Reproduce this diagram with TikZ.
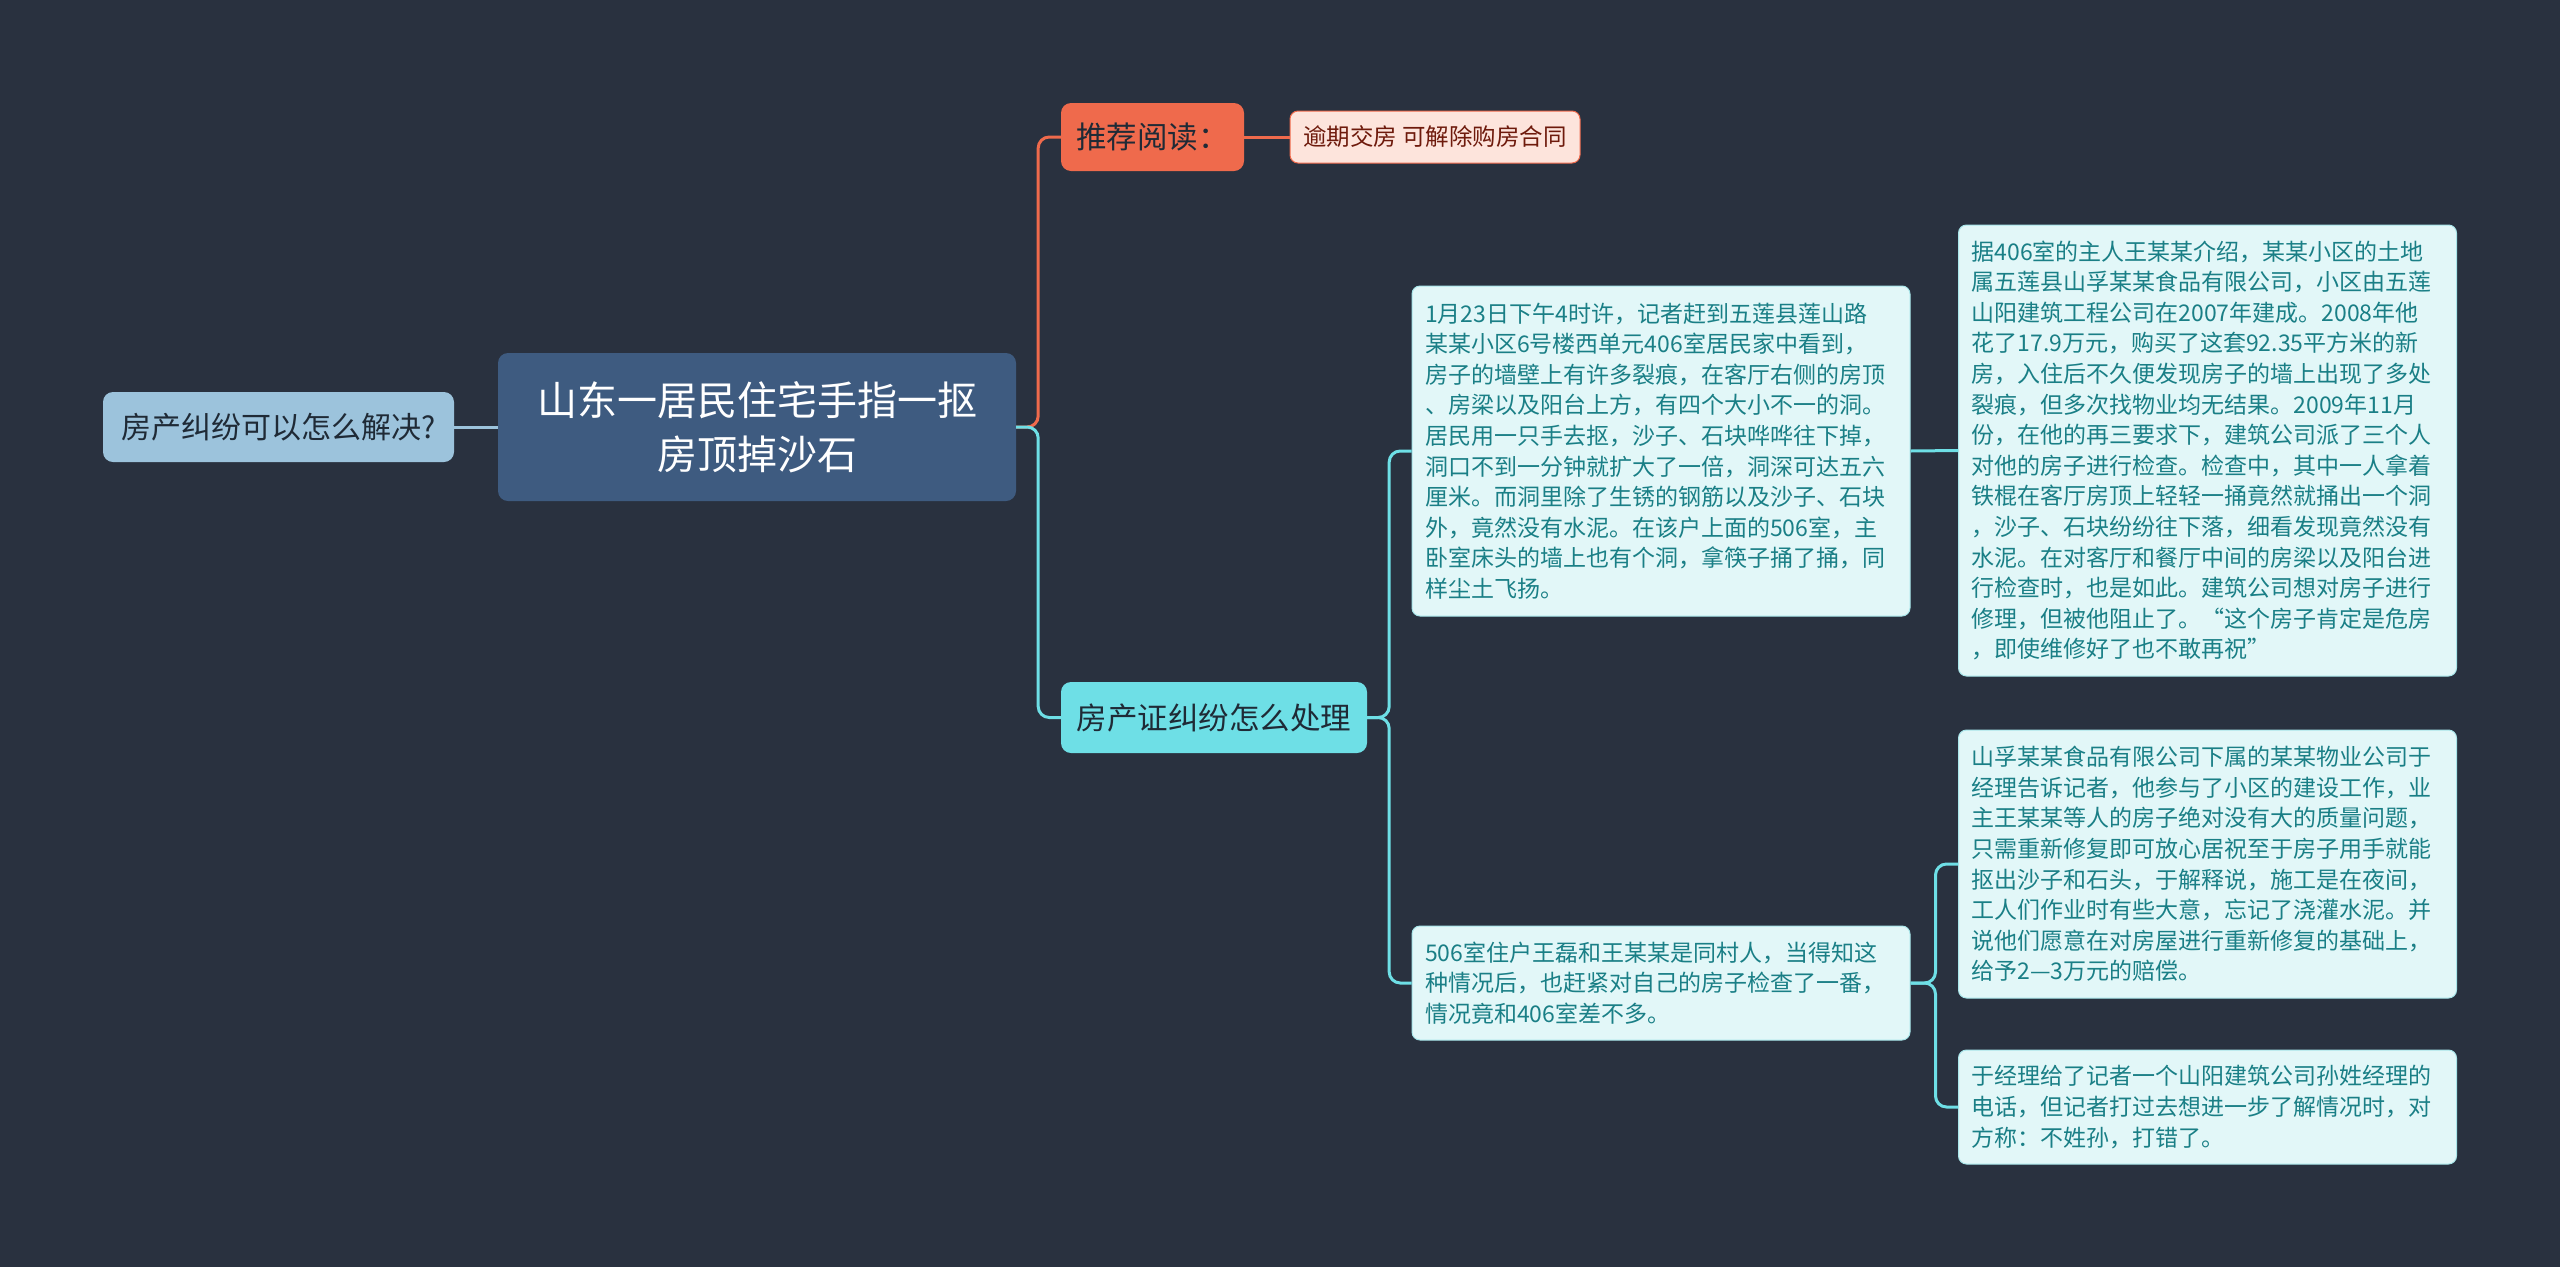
\documentclass[tikz,border=0pt]{standalone}
\usepackage{fontspec}
\setmainfont{Noto Sans CJK SC}
\definecolor{bgc}{HTML}{29313F}
\definecolor{rootc}{HTML}{3E5B80}
\definecolor{leftc}{HTML}{9CC3DC}
\definecolor{recc}{HTML}{EF6A4C}
\definecolor{linkc}{HTML}{FDE4DC}
\definecolor{linkt}{HTML}{6E1A0C}
\definecolor{fcc}{HTML}{6EDFE6}
\definecolor{boxc}{HTML}{E2F7F8}
\definecolor{boxb}{HTML}{A8E6EA}
\definecolor{boxt}{HTML}{1A7F86}
\definecolor{darkt}{HTML}{1F2A36}
\tikzset{
  basenode/.style={rounded corners=10pt, inner sep=0pt, align=center},
  rootnode/.style={basenode, fill=rootc, text=white, minimum width=518pt, minimum height=148pt, font=\fontsize{40}{54}\selectfont},
  leftnode/.style={basenode, fill=leftc, text=darkt, minimum width=351pt, minimum height=70pt, font=\fontsize{30}{34}\selectfont},
  recnode/.style={basenode, fill=recc, text=darkt, minimum width=183pt, minimum height=68pt, font=\fontsize{30.5}{34}\selectfont},
  linknode/.style={basenode, rounded corners=8pt, fill=linkc, draw=recc, line width=1pt, text=linkt, minimum width=290pt, minimum height=52pt, font=\fontsize{23.5}{28}\selectfont},
  fcnode/.style={basenode, fill=fcc, text=darkt, minimum width=306pt, minimum height=71pt, font=\fontsize{30.5}{34}\selectfont},
  txtnode/.style={rounded corners=8pt, fill=boxc, draw=boxb, line width=1pt, text=boxt, inner xsep=13pt, inner ysep=0pt, text width=472pt, align=left, font=\fontsize{23}{30.6}\selectfont},
  lineC/.style={draw=fcc, line width=3pt, rounded corners=11pt},
  lineO/.style={draw=recc, line width=3pt, rounded corners=11pt},
  lineL/.style={draw=leftc, line width=3pt}
}
\begin{document}
\begin{tikzpicture}[x=1pt,y=-1pt]
\fill[bgc] (0,0) rectangle (2560,1267);
\useasboundingbox (0,0) rectangle (2560,1267);

\node[rootnode] (root) at (757,427) {山东一居民住宅手指一抠\\房顶掉沙石};
\node[leftnode] (left) at (278.5,427) {房产纠纷可以怎么解决?};
\node[recnode] (rec) at (1152.5,137) {推荐阅读：};
\node[linknode] (link) at (1435,137) {逾期交房 可解除购房合同};
\node[fcnode] (fc) at (1214,717.5) {房产证纠纷怎么处理};

\node[txtnode, minimum height=330pt] (A) at (1661,451) {1月23日下午4时许，记者赶到五莲县莲山路\\某某小区6号楼西单元406室居民家中看到，\\房子的墙壁上有许多裂痕，在客厅右侧的房顶\\、房梁以及阳台上方，有四个大小不一的洞。\\居民用一只手去抠，沙子、石块哗哗往下掉，\\洞口不到一分钟就扩大了一倍，洞深可达五六\\厘米。而洞里除了生锈的钢筋以及沙子、石块\\外，竟然没有水泥。在该户上面的506室，主\\卧室床头的墙上也有个洞，拿筷子捅了捅，同\\样尘土飞扬。};

\node[txtnode, minimum height=451pt] (B) at (2207.5,450.5) {据406室的主人王某某介绍，某某小区的土地\\属五莲县山孚某某食品有限公司，小区由五莲\\山阳建筑工程公司在2007年建成。2008年他\\花了17.9万元，购买了这套92.35平方米的新\\房，入住后不久便发现房子的墙上出现了多处\\裂痕，但多次找物业均无结果。2009年11月\\份，在他的再三要求下，建筑公司派了三个人\\对他的房子进行检查。检查中，其中一人拿着\\铁棍在客厅房顶上轻轻一捅竟然就捅出一个洞\\，沙子、石块纷纷往下落，细看发现竟然没有\\水泥。在对客厅和餐厅中间的房梁以及阳台进\\行检查时，也是如此。建筑公司想对房子进行\\修理，但被他阻止了。“这个房子肯定是危房\\，即使维修好了也不敢再祝”};

\node[txtnode, minimum height=114pt] (C) at (1661,983) {506室住户王磊和王某某是同村人，当得知这\\种情况后，也赶紧对自己的房子检查了一番，\\情况竟和406室差不多。};

\node[txtnode, minimum height=268pt] (D) at (2207.5,864) {山孚某某食品有限公司下属的某某物业公司于\\经理告诉记者，他参与了小区的建设工作，业\\主王某某等人的房子绝对没有大的质量问题，\\只需重新修复即可放心居祝至于房子用手就能\\抠出沙子和石头，于解释说，施工是在夜间，\\工人们作业时有些大意，忘记了浇灌水泥。并\\说他们愿意在对房屋进行重新修复的基础上，\\给予2—3万元的赔偿。};

\node[txtnode, minimum height=114pt] (E) at (2207.5,1107) {于经理给了记者一个山阳建筑公司孙姓经理的\\电话，但记者打过去想进一步了解情况时，对\\方称：不姓孙，打错了。};

\draw[lineL] (root.west) -- (left.east);
\draw[lineO] (root.east) -- ++(22,0) |- (rec.west);
\draw[lineO] (rec.east) -- (link.west);
\draw[lineC] (root.east) -- ++(22,0) |- (fc.west);
\draw[lineC] (fc.east) -- ++(22,0) |- (A.west);
\draw[lineC] (fc.east) -- ++(22,0) |- (C.west);
\draw[lineC] (A.east) -- (B.west);
\draw[lineC] (C.east) -- ++(25,0) |- (D.west);
\draw[lineC] (C.east) -- ++(25,0) |- (E.west);
\end{tikzpicture}
\end{document}
